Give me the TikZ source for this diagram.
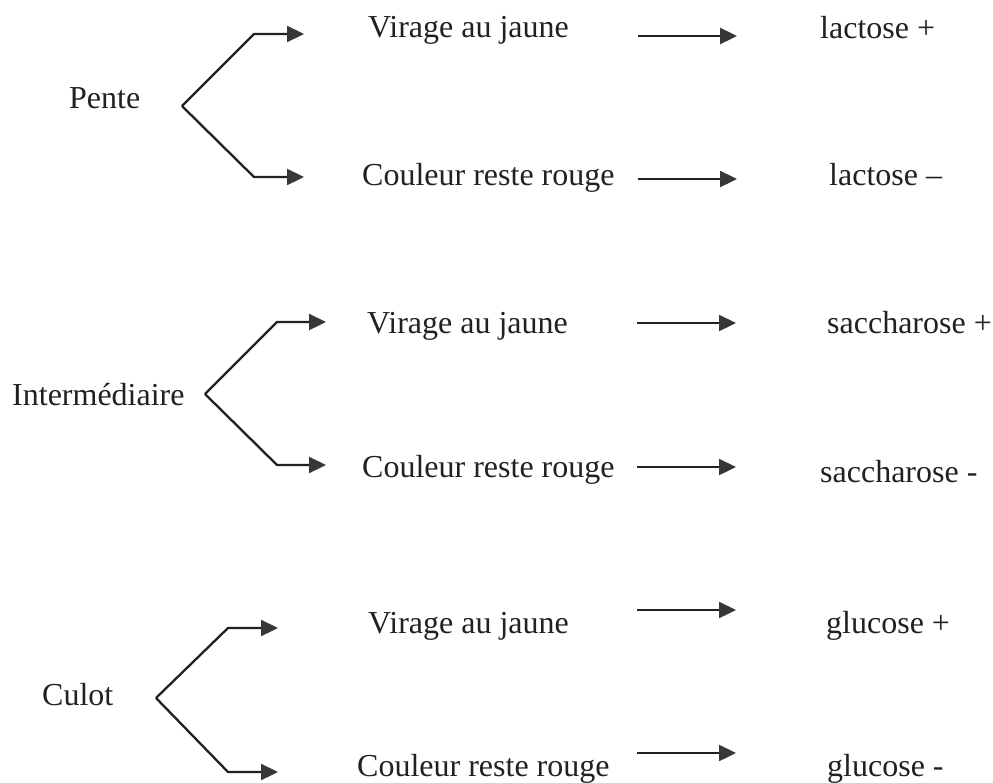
\documentclass[tikz,border=0pt]{standalone}
\usepackage{fontspec}
\setmainfont{Liberation Serif}
\usetikzlibrary{arrows.meta}
\definecolor{ink}{HTML}{222020}
\definecolor{tipgray}{HTML}{3A3636}
\begin{document}
\begin{tikzpicture}[x=1pt,y=-1pt,
  lbl/.style={anchor=base west,inner sep=0pt,text=ink,font=\fontsize{32}{38}\selectfont},
  conn/.style={draw=ink,line width=2.3pt,
    -{Triangle[length=17pt,width=16pt,color=tipgray,fill=tipgray]}}]
\useasboundingbox (0,0) rectangle (993,782);

% left-hand group labels
\node[lbl] (pente) at (69,108) {Pente};
\node[lbl] (inter) at (12,405) {Intermédiaire};
\node[lbl] (culot) at (42,705) {Culot};

% observations
\node[lbl] (v1) at (368,37)  {Virage au jaune};
\node[lbl] (c1) at (362,185) {Couleur reste rouge};
\node[lbl] (v2) at (367,333) {Virage au jaune};
\node[lbl] (c2) at (362,477) {Couleur reste rouge};
\node[lbl] (v3) at (368,633) {Virage au jaune};
\node[lbl] (c3) at (357,776) {Couleur reste rouge};

% results
\node[lbl] (r1p) at (820,38)  {lactose +};
\node[lbl] (r1m) at (829,185) {lactose –};
\node[lbl] (r2p) at (827,333) {saccharose +};
\node[lbl] (r2m) at (820,482) {saccharose -};
\node[lbl] (r3p) at (826,633) {glucose +};
\node[lbl] (r3m) at (827,776) {glucose -};

% branch points and arrow ends
\coordinate (a1) at (182,106);
\coordinate (t1u) at (304,34);  \coordinate (t1d) at (304,177);
\coordinate (a2) at (205,394);
\coordinate (t2u) at (326,322); \coordinate (t2d) at (326,465);
\coordinate (a3) at (156,698);
\coordinate (t3u) at (278,628); \coordinate (t3d) at (278,772);

\draw[conn] (a1) -- (254,34) -- (t1u);
\draw[conn] (a1) -- (254,177) -- (t1d);
\draw[conn] (a2) -- (277,322) -- (t2u);
\draw[conn] (a2) -- (277,465) -- (t2d);
\draw[conn] (a3) -- (228,628) -- (t3u);
\draw[conn] (a3) -- (228,772) -- (t3d);

% observation -> result arrows
\coordinate (s1u) at (638,36);  \coordinate (e1u) at (737,36);
\coordinate (s1d) at (638,179); \coordinate (e1d) at (737,179);
\coordinate (s2u) at (637,323); \coordinate (e2u) at (736,323);
\coordinate (s2d) at (637,467); \coordinate (e2d) at (736,467);
\coordinate (s3u) at (637,610); \coordinate (e3u) at (736,610);
\coordinate (s3d) at (637,753); \coordinate (e3d) at (736,753);
\foreach \r in {1u,1d,2u,2d,3u,3d}
  \draw[conn] (s\r) -- (e\r);
\end{tikzpicture}
\end{document}
